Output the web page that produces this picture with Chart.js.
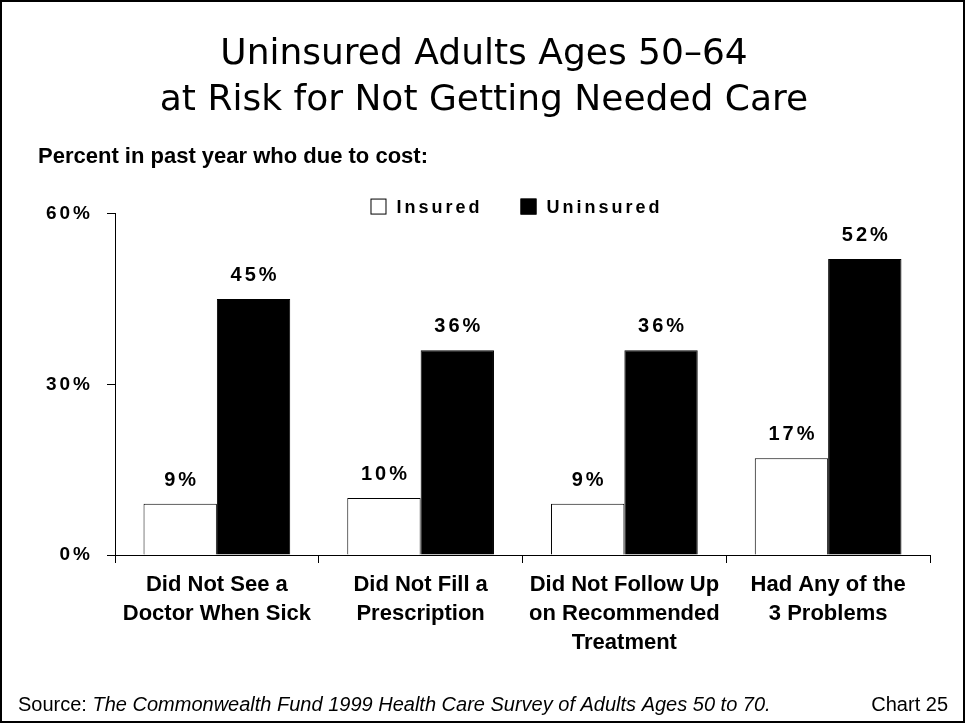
<!DOCTYPE html>
<html>
<head>
<meta charset="utf-8">
<script src="https://cdn.jsdelivr.net/npm/chart.js@4.4.1/dist/chart.umd.min.js"></script>
<style>
  html, body { margin: 0; padding: 0; background: #fff; }
</style>
</head>
<body>
<canvas id="myChart" width="965" height="723"></canvas>
<script>
const categories = [
    ['Did Not See a', 'Doctor When Sick'],
    ['Did Not Fill a', 'Prescription'],
    ['Did Not Follow Up', 'on Recommended', 'Treatment'],
    ['Had Any of the', '3 Problems']
];
const insured = [9, 10, 9, 17];
const uninsured = [45, 36, 36, 52];
const seriesNames = ['Insured', 'Uninsured'];
const yTicks = [0, 30, 60];
const titleLines = ['Uninsured Adults Ages 50\u201364', 'at Risk for Not Getting Needed Care'];
const subtitleText = 'Percent in past year who due to cost:';
const sourceLabel = 'Source: ';
const sourceText = 'The Commonwealth Fund 1999 Health Care Survey of Adults Ages 50 to 70.';
const chartNo = 'Chart 25';

const FAMILY = '"Liberation Sans", Arial, sans-serif';
Chart.defaults.font.family = FAMILY;
Chart.defaults.color = '#000';

// value labels, legend, footer and frame
const extras = {
    id: 'extras',
    beforeDraw(chart) {
        const c = chart.ctx;
        c.letterSpacing = '0px';
        c.save();
        c.fillStyle = '#fff';
        c.fillRect(0, 0, chart.width, chart.height);
        c.restore();
    },
    afterDatasetsDraw(chart) {
        const c = chart.ctx;
        c.save();
        c.font = 'bold 20px ' + FAMILY;
        c.letterSpacing = '3px';
        c.fillStyle = '#000';
        c.textAlign = 'center';
        c.textBaseline = 'alphabetic';
        chart.data.datasets.forEach((ds, i) => {
            chart.getDatasetMeta(i).data.forEach((bar, j) => {
                c.fillText(ds.data[j] + '%', bar.x + 1.5, bar.y - 18);
            });
        });
        c.restore();
        // y tick labels (z: 1) are drawn after this, spaced like the original
        c.letterSpacing = '3px';
    },
    afterDraw(chart) {
        const c = chart.ctx;
        const a = chart.chartArea;
        c.letterSpacing = '0px';

        // legend
        c.save();
        c.font = 'bold 18px ' + FAMILY;
        c.letterSpacing = '3px';
        const box = 16, gapBox = 10, gapItem = 38;
        const widths = chart.data.datasets.map(ds => c.measureText(ds.label).width);
        const total = widths.reduce((s, w) => s + box + gapBox + w, 0) + gapItem;
        let x = (a.left + a.right) / 2 - total / 2 - 6;
        const y = a.top - 7;
        chart.data.datasets.forEach((ds, i) => {
            c.fillStyle = ds.backgroundColor;
            c.fillRect(x, y - 8, box, box);
            c.strokeStyle = '#000';
            c.lineWidth = 1;
            c.strokeRect(x + 0.5, y - 7.5, box - 1, box - 1);
            c.fillStyle = '#000';
            c.textAlign = 'left';
            c.textBaseline = 'middle';
            c.fillText(ds.label, x + box + gapBox, y + 1);
            x += box + gapBox + widths[i] + gapItem;
        });
        c.restore();

        // footer
        c.save();
        c.fillStyle = '#000';
        c.textBaseline = 'alphabetic';
        c.textAlign = 'left';
        c.font = '20px ' + FAMILY;
        c.fillText(sourceLabel, 18, 711);
        const w = c.measureText(sourceLabel).width;
        c.font = 'italic 20px ' + FAMILY;
        c.fillText(sourceText, 18 + w, 711);
        c.font = '20px ' + FAMILY;
        c.textAlign = 'right';
        c.fillText(chartNo, 948, 711);

        // frame
        c.strokeStyle = '#000';
        c.lineWidth = 2;
        c.strokeRect(1, 1, chart.width - 2, chart.height - 2);
        c.restore();
    }
};

const ctx = document.getElementById('myChart').getContext('2d');
const myChart = new Chart(ctx, {
    type: 'bar',
    data: {
        labels: categories,
        datasets: [{
            label: seriesNames[0],
            data: insured,
            backgroundColor: '#ffffff',
            borderColor: '#000000',
            borderWidth: 1
        }, {
            label: seriesNames[1],
            data: uninsured,
            backgroundColor: '#000000',
            borderColor: '#000000',
            borderWidth: 1
        }]
    },
    options: {
        responsive: false,
        devicePixelRatio: 1,
        animation: false,
        barPercentage: 1,
        categoryPercentage: 0.72,
        layout: {
            padding: { left: 38, right: 35, top: 0, bottom: 50 }
        },
        plugins: {
            legend: { display: false },
            tooltip: { enabled: false },
            title: {
                display: true,
                text: titleLines,
                color: '#000',
                font: { family: '"DejaVu Sans", sans-serif', size: 36, weight: 'normal', lineHeight: 1.28 },
                padding: { top: 32, bottom: 0 }
            },
            subtitle: {
                display: true,
                text: subtitleText,
                align: 'start',
                color: '#000',
                font: { size: 22, weight: 'bold', lineHeight: 1.2 },
                padding: { top: 20, bottom: 43 }
            }
        },
        scales: {
            x: {
                grid: {
                    display: true,
                    drawOnChartArea: false,
                    drawTicks: true,
                    tickLength: 8,
                    color: '#000',
                    offset: true
                },
                border: { display: true, color: '#000', width: 1 },
                ticks: {
                    color: '#000',
                    font: { size: 22, weight: 'bold', lineHeight: 1.3 },
                    padding: 8,
                    maxRotation: 0,
                    autoSkip: false,
                    z: 0
                },
                afterFit: s => { s.height = 118; }
            },
            y: {
                min: 0,
                max: 60,
                afterBuildTicks: s => { s.ticks = yTicks.map(v => ({ value: v })); },
                grid: {
                    drawOnChartArea: false,
                    drawTicks: true,
                    tickLength: 8,
                    color: '#000'
                },
                border: { display: true, color: '#000', width: 1 },
                ticks: {
                    color: '#000',
                    font: { size: 19, weight: 'bold' },
                    padding: 14,
                    callback: v => v + '%',
                    z: 1
                },
                afterFit: s => { s.width = 77; }
            }
        }
    },
    plugins: [extras]
});
</script>
</body>
</html>
